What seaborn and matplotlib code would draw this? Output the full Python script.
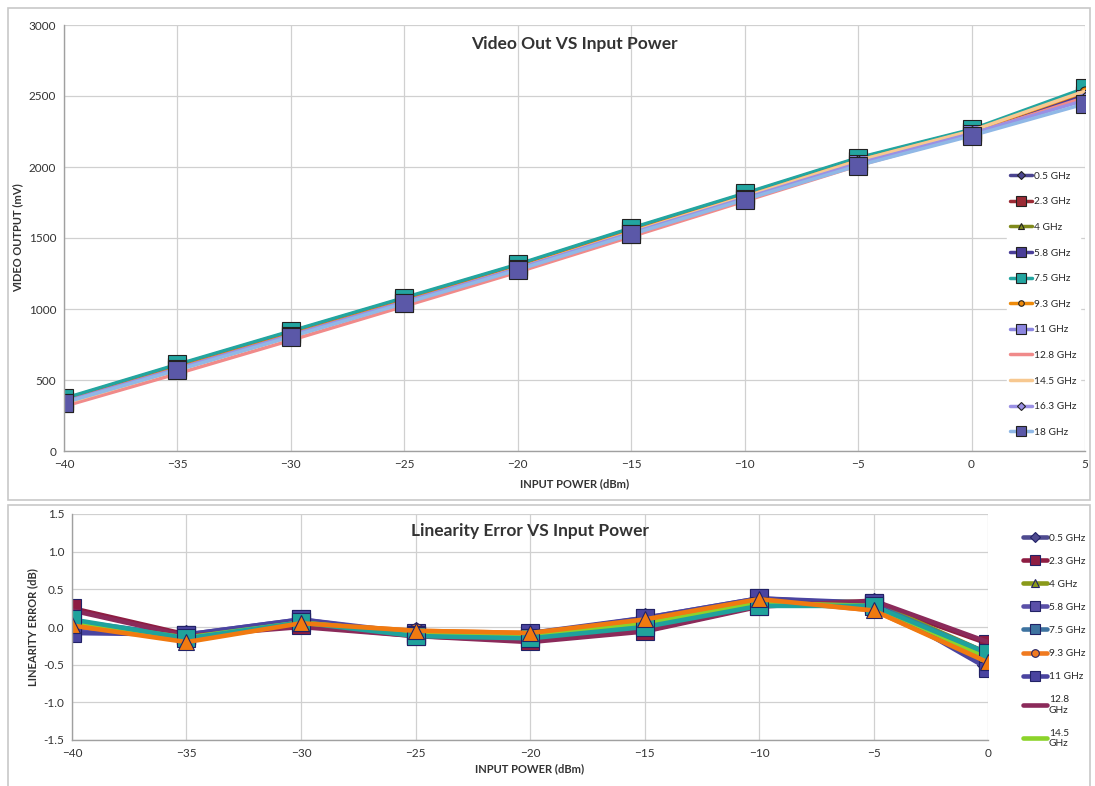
import matplotlib
matplotlib.use("Agg")
import matplotlib.pyplot as plt
import numpy as np
import pandas as pd
import seaborn as sns
from matplotlib.patches import Rectangle

sns.set_theme(style="whitegrid")
plt.rcParams["font.family"] = ["Lato", "DejaVu Sans"]

# ---------------- data ----------------
power_top = [-40, -35, -30, -25, -20, -15, -10, -5, 0, 5]
freqs = ["0.5 GHz", "2.3 GHz", "4 GHz", "5.8 GHz", "7.5 GHz", "9.3 GHz",
         "11 GHz", "12.8 GHz", "14.5 GHz", "16.3 GHz", "18 GHz"]

video_05 = [360, 600, 835, 1070, 1305, 1560, 1800, 2050, 2255, 2520]
video_23 = [350, 590, 825, 1060, 1295, 1550, 1790, 2040, 2250, 2510]
video_40 = [365, 605, 840, 1075, 1310, 1565, 1810, 2060, 2260, 2540]
video_58 = [355, 595, 830, 1065, 1300, 1555, 1800, 2045, 2250, 2500]
video_75 = [370, 610, 845, 1080, 1315, 1570, 1815, 2065, 2265, 2555]
video_93 = [345, 585, 820, 1055, 1290, 1545, 1790, 2045, 2250, 2530]
video_110 = [340, 575, 810, 1045, 1280, 1530, 1775, 2020, 2235, 2480]
video_128 = [315, 545, 780, 1020, 1260, 1510, 1760, 2010, 2230, 2490]
video_145 = [335, 570, 805, 1045, 1285, 1540, 1790, 2045, 2255, 2535]
video_163 = [345, 580, 815, 1050, 1285, 1535, 1780, 2025, 2235, 2470]
video_180 = [340, 570, 805, 1040, 1275, 1525, 1770, 2010, 2220, 2445]

power_bot = [-40, -35, -30, -25, -20, -15, -10, -5, 0]
lin_05 = [-0.05, -0.12, 0.08, -0.08, -0.12, 0.10, 0.35, 0.30, -0.50]
lin_23 = [0.25, -0.10, 0.02, -0.12, -0.18, -0.05, 0.28, 0.32, -0.22]
lin_40 = [0.05, -0.15, 0.08, -0.10, -0.15, 0.05, 0.35, 0.33, -0.35]
lin_58 = [-0.05, -0.10, 0.10, -0.08, -0.10, 0.12, 0.38, 0.30, -0.52]
lin_75 = [0.08, -0.12, 0.07, -0.10, -0.14, 0.02, 0.30, 0.30, -0.35]
lin_93 = [0.02, -0.18, 0.05, -0.05, -0.08, 0.08, 0.36, 0.22, -0.45]
lin_110 = [-0.08, -0.10, 0.10, -0.10, -0.08, 0.12, 0.38, 0.32, -0.55]
lin_128 = [0.22, -0.12, 0.00, -0.12, -0.20, -0.06, 0.27, 0.35, -0.20]
lin_145 = [0.06, -0.14, 0.06, -0.08, -0.12, 0.04, 0.32, 0.28, -0.40]
lin_180 = [0.10, -0.15, 0.06, -0.12, -0.15, 0.00, 0.28, 0.28, -0.35]
lin_163 = [0.02, -0.20, 0.05, -0.05, -0.08, 0.10, 0.37, 0.22, -0.47]

top_series = [video_05, video_23, video_40, video_58, video_75, video_93,
              video_110, video_128, video_145, video_163, video_180]
bot_series = [lin_05, lin_23, lin_40, lin_58, lin_75, lin_93,
              lin_110, lin_128, lin_145, lin_180, lin_163]
bot_labels = ["0.5 GHz", "2.3 GHz", "4 GHz", "5.8 GHz", "7.5 GHz", "9.3 GHz",
              "11 GHz", "12.8\nGHz", "14.5\nGHz", "_18", "_16.3"]

# ---------------- styles ----------------
top_colors = ["#4b4590", "#9b2b35", "#808a1c", "#4a3e98", "#23a5a0", "#ee8a0a",
              "#8c86e0", "#f08a8a", "#f7c890", "#9a90e4", "#90b8e6"]
top_faces = ["#4b4590", "#9b2b35", "#808a1c", "#4a3e98", "#23a5a0", "#ee8a0a",
             "#8c86e0", None, None, "#9a90e4", "#5b58a8"]
top_markers = ["D", "s", "^", "s", "s", "o", "s", None, None, "D", "s"]

bot_colors = ["#4f4b90", "#8e1d42", "#8a9a1a", "#5a50a8", "#3e73a0", "#f07a20",
              "#4a44a0", "#8b2a5a", "#8cd32a", "#1fa29c", "#f07a10"]
bot_markers = ["D", "s", "^", "s", "s", "o", "s", None, None, "s", "^"]

grid_c = "#d0d0d0"
text_c = "#333333"

fig = plt.figure(figsize=(10.95, 7.86), dpi=100)

# chart area borders
fig.patches.append(Rectangle((8 / 1095, 1 - 500 / 786), 1082 / 1095, 492 / 786,
                             transform=fig.transFigure, fill=False,
                             edgecolor="#c8c8c8", linewidth=1.2))
fig.patches.append(Rectangle((8 / 1095, -0.05), 1082 / 1095, 1 - 505 / 786 + 0.05,
                             transform=fig.transFigure, fill=False,
                             edgecolor="#c8c8c8", linewidth=1.2))


def style_axes(ax):
    ax.grid(True, color=grid_c, linewidth=0.9)
    for side in ["top", "right"]:
        ax.spines[side].set_visible(False)
    for side in ["left", "bottom"]:
        ax.spines[side].set_color("#a0a0a0")
        ax.spines[side].set_linewidth(1.0)
    ax.tick_params(axis="both", labelsize=8.5, colors=text_c, length=4,
                   direction="inout", width=0.9)
    ax.tick_params(axis="both", color="#a0a0a0")


# ---------------- top chart ----------------
ax1 = fig.add_axes([64 / 1095, 1 - 451 / 786, 1021 / 1095, 426 / 786])
for vals, name, col, face, mk in zip(top_series, freqs, top_colors, top_faces,
                                     top_markers):
    sns.lineplot(x=power_top, y=vals, ax=ax1, color=col, linewidth=2.5,
                 marker=mk, markersize=13 if mk == "s" else 8,
                 markerfacecolor=face, markeredgecolor="#222222" if mk else None,
                 markeredgewidth=0.8, label=name)
ax1.set_xlim(-40, 5)
ax1.set_ylim(0, 3000)
ax1.set_xticks(power_top)
ax1.set_yticks(np.arange(0, 3001, 500))
style_axes(ax1)
ax1.set_xlabel("INPUT POWER (dBm)", fontsize=8, fontweight="bold", color=text_c,
               labelpad=6)
ax1.set_ylabel("VIDEO OUTPUT (mV)", fontsize=8, fontweight="bold", color=text_c,
               labelpad=4)
ax1.text(0.5, 0.975, "Video Out VS Input Power", transform=ax1.transAxes,
         ha="center", va="top", fontsize=12.5, fontweight="bold", color=text_c)
ax1.legend(loc="upper right", bbox_to_anchor=(1.0, 0.675), fontsize=7.3,
           frameon=True, facecolor="white", edgecolor="white", framealpha=1,
           labelspacing=1.63, handlelength=2.2, handletextpad=0.2,
           markerscale=0.5, borderpad=0.3)

# ---------------- bottom chart ----------------
ax2 = fig.add_axes([72 / 1095, 1 - 740 / 786, 916 / 1095, 226 / 786])
for vals, name, col, mk in zip(bot_series, bot_labels, bot_colors, bot_markers):
    sns.lineplot(x=power_bot, y=vals, ax=ax2, color=col, linewidth=3.3,
                 marker=mk, markersize=13 if mk == "s" else 11,
                 markeredgecolor="#222266" if mk else None, markeredgewidth=0.8,
                 label=name)
ax2.set_xlim(-40, 0)
ax2.set_ylim(-1.5, 1.5)
ax2.set_xticks(power_bot)
ax2.set_yticks(np.arange(-1.5, 1.51, 0.5))
ax2.yaxis.set_major_formatter(plt.FuncFormatter(lambda v, _: f"{v:.1f}"))
style_axes(ax2)
ax2.set_xlabel("INPUT POWER (dBm)", fontsize=8, fontweight="bold", color=text_c,
               labelpad=3)
ax2.set_ylabel("LINEARITY ERROR (dB)", fontsize=8, fontweight="bold", color=text_c,
               labelpad=4)
ax2.text(0.5, 0.96, "Linearity Error VS Input Power", transform=ax2.transAxes,
         ha="center", va="top", fontsize=12.5, fontweight="bold", color=text_c)
ax2.legend(loc="upper left", bbox_to_anchor=(1.03, 0.945), fontsize=7.3,
           frameon=False, labelspacing=1.38, handlelength=2.4, handletextpad=0.2,
           markerscale=0.5, borderpad=0.2)

fig.savefig("out.png", dpi=100)
